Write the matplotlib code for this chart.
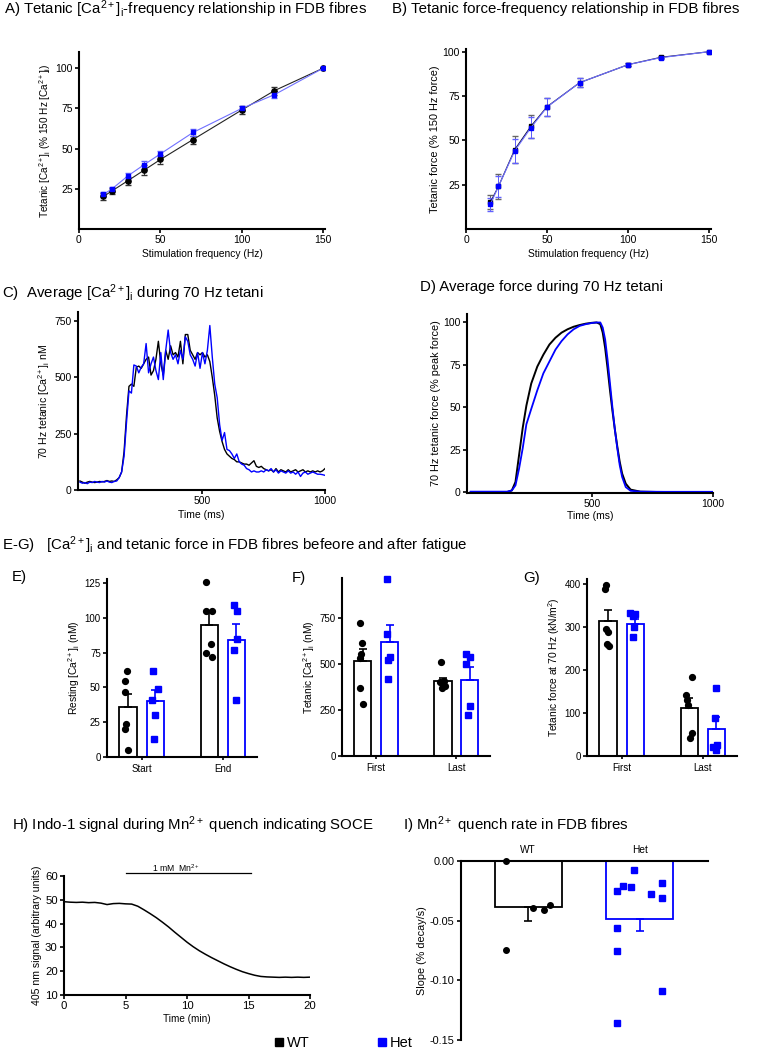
import numpy as np
import matplotlib
matplotlib.use('Agg')
import matplotlib.pyplot as plt
from matplotlib.lines import Line2D

plt.rcParams['font.family'] = ['Liberation Sans', 'DejaVu Sans']
plt.rcParams['mathtext.fontset'] = 'custom'
plt.rcParams['mathtext.rm'] = 'Liberation Sans'
plt.rcParams['mathtext.it'] = 'Liberation Sans:italic'
plt.rcParams['mathtext.default'] = 'regular'

W, H = 776, 1050
BLUE = '#0000ff'
CA = '[Ca$^{2+}$]$_i$'

# ---- A / B : frequency relationships
freq = [15, 20, 30, 40, 50, 70, 100, 120, 150]
ca_wt = [20.2, 23.5, 30, 36.6, 43.2, 55.6, 74, 86, 100]
ca_wt_err = [2, 2, 2.5, 3, 3, 2.5, 2.5, 2.5, 0]
ca_het = [21.6, 24.7, 33, 40, 46.7, 60, 75, 83.5, 100]
ca_het_err = [1.5, 1.5, 2, 2.5, 1.5, 2, 1.5, 2, 0]
force_wt = [15, 24, 44.7, 57.9, 69, 82.5, 92.7, 96.8, 100]
force_wt_err = [4, 7, 7.5, 6.5, 5, 2.5, 1, 0.5, 0]
force_het = [13.9, 24, 44, 57.1, 68.8, 82.5, 92.7, 96.6, 100]
force_het_err = [3.5, 6, 7, 6, 5, 2.5, 1, 0.5, 0]

# ---- C : average [Ca2+]i trace, 10 ms samples
t_ca = np.arange(0, 1001, 10)
trace_ca_wt = [40, 35, 30, 35, 38, 35, 33, 35, 38, 36, 38, 42, 38, 40, 38, 45, 55, 80, 170, 330,
               460, 470, 460, 545, 550, 540, 560, 580, 590, 510, 530, 580, 660, 560, 510, 620, 580, 640, 600, 610,
               590, 660, 560, 690, 690, 620, 600, 580, 610, 600, 610, 590, 600, 570, 500, 420, 320, 260, 215, 180,
               160, 150, 140, 135, 125, 125, 120, 115, 115, 110, 120, 130, 105, 100, 105, 95, 90, 85, 90, 80,
               95, 80, 90, 85, 80, 90, 80, 85, 90, 80, 85, 90, 80, 85, 80, 85, 80, 85, 80, 85, 95]
trace_ca_het = [35, 30, 33, 28, 35, 33, 38, 35, 33, 38, 35, 40, 35, 33, 38, 40, 55, 80, 150, 300,
                440, 430, 555, 550, 520, 545, 560, 650, 520, 560, 590, 530, 490, 610, 490, 620, 710, 610, 580, 600,
                560, 620, 580, 680, 660, 600, 580, 550, 610, 540, 610, 560, 620, 730, 590, 470, 410, 290, 220, 255,
                180, 175, 160, 140, 160, 125, 115, 110, 95, 90, 80, 85, 80, 80, 85, 80, 90, 85, 95, 80,
                90, 75, 85, 80, 75, 85, 75, 80, 70, 80, 60, 75, 80, 70, 75, 80, 75, 70, 70, 68, 65]

# ---- D : average force trace
t_force = [0, 100, 150, 170, 185, 200, 215, 230, 250, 275, 300, 325, 350, 375, 400, 425, 450, 475, 500,
           520, 535, 545, 555, 565, 575, 585, 595, 605, 615, 625, 640, 660, 700, 800, 900, 1000]
trace_f_wt = [0, 0, 0, 1, 6, 22, 38, 51, 64, 74, 81, 87, 91, 94, 96, 97.5, 98.5, 99.3, 99.8,
              100, 99, 94, 85, 73, 60, 48, 37, 27, 18, 11, 5, 1.5, 0.3, 0, 0, 0]
trace_f_het = [0.3, 0.3, 0.3, 1, 4, 14, 26, 40, 49, 60, 70, 77, 84, 89, 93, 96, 98, 99, 99.7,
               100, 100, 97, 90, 78, 64, 50, 37, 26, 16, 9, 3, 0.8, 0.3, 0.2, 0.2, 0.2]

# ---- E-G : before / after fatigue
rest_labels = ['Start', 'End']
rest_mean = [36, 40, 95, 84]
rest_sem = [9, 8, 9, 12]
rest_pts = [[62, 55, 47, 24, 20, 5], [62, 49, 41, 30, 13],
            [126, 105, 105, 81, 75, 72], [109, 105, 85, 77, 41]]

tet_labels = ['First', 'Last']
tet_mean = [515, 620, 405, 415]
tet_sem = [65, 92, 17, 69]
tet_pts = [[721, 616, 553, 534, 371, 284], [960, 663, 540, 522, 420],
           [512, 410, 400, 390, 380, 370], [553, 540, 500, 272, 221]]

frc_labels = ['First', 'Last']
frc_mean = [315, 308, 112, 63]
frc_sem = [25, 10, 22, 27]
frc_pts = [[399, 388, 295, 289, 260, 257], [333, 326, 301, 277, 330],
           [183, 143, 130, 119, 54, 41], [158, 89, 26, 22, 14]]

# ---- H : Mn2+ quench trace
t_mn = np.arange(0, 20.01, 0.5)
sig_mn = [49.2, 49.0, 48.9, 49.0, 48.8, 48.9, 48.6, 48.0, 48.4, 48.5, 48.3, 48.2, 47.3, 45.8,
          44.2, 42.5, 40.6, 38.6, 36.4, 34.3, 32.2, 30.3, 28.6, 27.1, 25.7, 24.4, 23.1, 21.9,
          20.8, 19.8, 19.0, 18.3, 17.8, 17.6, 17.5, 17.4, 17.5, 17.4, 17.5, 17.4, 17.5]

# ---- I : quench rate
slope_labels = ['WT', 'Het']
slope_mean = [-0.0385, -0.0483]
slope_sem = [0.012, 0.010]
slope_wt = [0.0, -0.0398, -0.0412, -0.037, -0.0749]
slope_het = [-0.0073, -0.0253, -0.021, -0.0216, -0.0278, -0.0188, -0.0306, -0.0558, -0.0758, -0.1092, -0.1361]

fig = plt.figure(figsize=(W / 100, H / 100), dpi=100)


def add_ax(l, t, r, b):
    return fig.add_axes([l / W, 1 - b / H, (r - l) / W, (b - t) / H])


def ftext(x, y, s, size=10.8, **kw):
    fig.text(x / W, 1 - y / H, s, fontsize=size, va='center', ha='left', **kw)


def style(ax, fs=7.5):
    for s in ['top', 'right']:
        ax.spines[s].set_visible(False)
    for s in ['left', 'bottom']:
        ax.spines[s].set_linewidth(1.5)
    ax.tick_params(direction='out', length=3, width=1.2, labelsize=fs, pad=1.5)


# A
ax = add_ax(79, 52, 325, 229)
ax.errorbar(freq, ca_wt, yerr=ca_wt_err, color='#222222', lw=0.8, marker='o', ms=3.8,
            mfc='black', mec='black', capsize=2, elinewidth=0.7, ecolor='#333333')
ax.errorbar(freq, ca_het, yerr=ca_het_err, color='#7070ff', lw=0.8, marker='s', ms=3.5,
            mfc=BLUE, mec=BLUE, capsize=2, elinewidth=0.7, ecolor='#6060ff')
ax.set_xlim(0, 151)
ax.set_ylim(0, 110)
ax.set_xticks([0, 50, 100, 150])
ax.set_yticks([25, 50, 75, 100])
ax.set_xlabel('Stimulation frequency (Hz)', fontsize=7.4, labelpad=3)
ax.set_ylabel('Tetanic ' + CA + ' (% 150 Hz ' + CA + ')', fontsize=7.2, labelpad=2)
style(ax)

# B
ax = add_ax(466, 49, 711, 229)
ax.errorbar(freq, force_wt, yerr=force_wt_err, color='#101040', lw=0.8, marker='s', ms=3.5,
            mfc='black', mec='black', capsize=2.5, elinewidth=0.7, ecolor='#666666')
ax.errorbar(freq, force_het, yerr=force_het_err, color='#7070ff', lw=0.8, marker='s', ms=3.5,
            mfc=BLUE, mec=BLUE, capsize=2.5, elinewidth=0.7, ecolor='#6060ff')
ax.set_xlim(0, 151)
ax.set_ylim(0, 101.5)
ax.set_xticks([0, 50, 100, 150])
ax.set_yticks([25, 50, 75, 100])
ax.set_xlabel('Stimulation frequency (Hz)', fontsize=7.4, labelpad=3)
ax.set_ylabel('Tetanic force (% 150 Hz force)', fontsize=7.8, labelpad=2)
style(ax)

# C
ax = add_ax(78, 312, 325, 490)
ax.plot(t_ca, trace_ca_wt, color='black', lw=1.0)
ax.plot(t_ca, trace_ca_het, color=BLUE, lw=1.0)
ax.set_xlim(-8, 1000)
ax.set_ylim(0, 790)
ax.set_xticks([500, 1000])
ax.set_yticks([0, 250, 500, 750])
ax.set_xlabel('Time (ms)', fontsize=7.5, labelpad=3)
ax.set_ylabel('70 Hz tetanic ' + CA + ' nM', fontsize=7.6, labelpad=2)
style(ax)

# D
ax = add_ax(467, 314, 713, 493)
ax.plot(t_force, trace_f_wt, color='black', lw=1.4)
ax.plot(t_force, trace_f_het, color=BLUE, lw=1.3)
ax.set_xlim(-15, 1000)
ax.set_ylim(-0.5, 105)
ax.set_xticks([500, 1000])
ax.set_yticks([0, 25, 50, 75, 100])
ax.set_xlabel('Time (ms)', fontsize=7.5, labelpad=1)
ax.set_ylabel('70 Hz tetanic force (% peak force)', fontsize=7.8, labelpad=2)
style(ax)


# E-G
def bar_panel(ax, labels, means, sems, pts, jit, ylim, yticks, ylabel):
    pos = [0, 1, 3, 4]
    cols = ['black', BLUE, 'black', BLUE]
    for p, m, e, c in zip(pos, means, sems, cols):
        ax.bar(p, m, width=0.64, facecolor='white', edgecolor=c, linewidth=1.3, zorder=1)
        ax.errorbar(p, m, yerr=[[0], [e]], color=c, capsize=3, elinewidth=1.2, capthick=1.2, zorder=2)
    for p, vals, j, c in zip(pos, pts, jit, cols):
        mk = 'o' if c == 'black' else 's'
        ax.plot(p + np.array(j), vals, ls='none', marker=mk, ms=4.2, mfc=c, mec=c, zorder=3, clip_on=False)
    ax.set_xlim(-0.78, 4.76)
    ax.set_ylim(*ylim)
    ax.set_xticks([0.5, 3.5])
    ax.set_xticklabels(labels)
    ax.set_yticks(yticks)
    ax.set_ylabel(ylabel, fontsize=7.4, labelpad=2)
    style(ax, fs=7)
    ax.tick_params(axis='x', length=2, pad=3)


jit_e = [[-0.05, -0.1, -0.1, -0.07, -0.1, 0.01], [-0.09, 0.12, -0.1, 0.01, -0.04],
         [-0.12, -0.12, 0.1, 0.06, -0.12, 0.1], [-0.1, 0.03, 0.02, -0.1, 0.0]]
jit_f = [[-0.09, -0.03, -0.08, -0.1, -0.09, 0.02], [-0.09, -0.09, 0.0, -0.07, -0.04],
         [-0.09, 0.05, -0.1, 0.0, 0.08, -0.05], [-0.12, 0.0, -0.12, 0.0, -0.05]]
jit_g = [[-0.07, -0.1, -0.08, 0.0, -0.05, 0.03], [-0.18, -0.08, -0.05, -0.08, 0.0],
         [0.09, -0.12, -0.1, -0.06, 0.1, 0.02], [0.0, -0.06, 0.03, -0.12, -0.02]]

ax = add_ax(107, 579, 257, 757)
bar_panel(ax, rest_labels, rest_mean, rest_sem, rest_pts, jit_e, (0, 128),
          [0, 25, 50, 75, 100, 125], 'Resting ' + CA + ' (nM)')
ax = add_ax(342, 578, 490, 756)
bar_panel(ax, tet_labels, tet_mean, tet_sem, tet_pts, jit_f, (0, 967),
          [0, 250, 500, 750], 'Tetanic ' + CA + ' (nM)')
ax = add_ax(587, 579, 737, 756)
bar_panel(ax, frc_labels, frc_mean, frc_sem, frc_pts, jit_g, (0, 412),
          [0, 100, 200, 300, 400], 'Tetanic force at 70 Hz (kN/m$^2$)')

# H
ax = add_ax(64, 876, 310, 995)
ax.plot(t_mn, sig_mn, color='black', lw=1.1)
ax.set_xlim(0, 20)
ax.set_ylim(10, 60)
ax.set_xticks([0, 5, 10, 15, 20])
ax.set_yticks([10, 20, 30, 40, 50, 60])
ax.set_xlabel('Time (min)', fontsize=7.2, labelpad=2)
ax.set_ylabel('405 nm signal (arbitrary units)', fontsize=7.6, labelpad=2)
style(ax, fs=8.2)
ax.plot([5, 15.2], [61.3, 61.3], color='black', lw=0.9, clip_on=False)
ax.text(9.1, 63.4, '1 mM  Mn$^{2+}$', fontsize=6.2, ha='center', va='center')

# I
ax = add_ax(461, 861, 708, 1040)
ax.bar([0, 1], slope_mean, width=0.6, facecolor='white', edgecolor=['black', BLUE], linewidth=1.3, zorder=1)
for p, m, e, c in zip([0, 1], slope_mean, slope_sem, ['black', BLUE]):
    ax.errorbar(p, m, yerr=[[e], [0]], color=c, capsize=3, elinewidth=1.2, capthick=1.2, zorder=2)
ax.plot(np.array([-0.2, 0.04, 0.14, 0.2, -0.2]), slope_wt, ls='none', marker='o', ms=4,
        mfc='black', mec='black', zorder=3, clip_on=False)
ax.plot(1 + np.array([-0.05, -0.2, -0.15, -0.08, 0.1, 0.2, 0.2, -0.2, -0.2, 0.2, -0.2]), slope_het,
        ls='none', marker='s', ms=4.3, mfc=BLUE, mec=BLUE, zorder=3, clip_on=False)
ax.set_xlim(-0.6, 1.61)
ax.set_ylim(-0.15, 0)
ax.set_xticks([0, 1])
ax.set_xticklabels(slope_labels)
ax.set_yticks([0, -0.05, -0.10, -0.15])
ax.set_yticklabels(['0.00', '-0.05', '-0.10', '-0.15'])
ax.set_ylabel('Slope (% decay/s)', fontsize=7.8, labelpad=2)
ax.spines['right'].set_visible(False)
ax.spines['bottom'].set_visible(False)
ax.spines['top'].set_linewidth(1.5)
ax.spines['left'].set_linewidth(1.5)
ax.xaxis.tick_top()
ax.tick_params(axis='x', length=0, labelsize=7.3, pad=4)
ax.tick_params(axis='y', direction='out', length=3, width=1.2, labelsize=7.8, pad=1.5)

# titles
ftext(4, 9, 'A) Tetanic ' + CA + '-frequency relationship in FDB fibres')
ftext(392, 9, 'B) Tetanic force-frequency relationship in FDB fibres')
ftext(2, 293, 'C)  Average ' + CA + ' during 70 Hz tetani')
ftext(420, 287, 'D) Average force during 70 Hz tetani')
ftext(2, 545, 'E-G)   ' + CA + ' and tetanic force in FDB fibres befeore and after fatigue')
ftext(12, 577, 'E)')
ftext(292, 578, 'F)')
ftext(523, 578, 'G)')
ftext(12, 825, 'H) Indo-1 signal during Mn$^{2+}$ quench indicating SOCE')
ftext(403, 825, 'I) Mn$^{2+}$ quench rate in FDB fibres')

handles = [Line2D([], [], ls='none', marker='s', ms=6, mfc='black', mec='black'),
           Line2D([], [], ls='none', marker='s', ms=6, mfc=BLUE, mec=BLUE)]
fig.legend(handles, ['WT', 'Het'], loc='center left', bbox_to_anchor=(274 / W, 1 - 1043 / H),
           ncol=2, frameon=False, fontsize=10.5, handlelength=0.7, handletextpad=0.2,
           columnspacing=4.6, borderpad=0, borderaxespad=0)

fig.savefig('out.png', dpi=100)
